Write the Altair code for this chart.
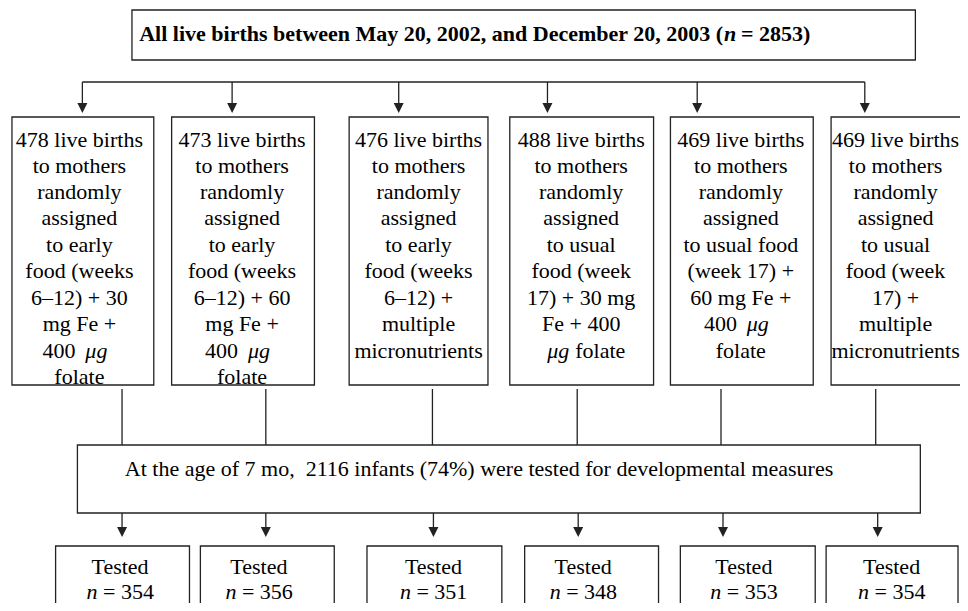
import altair as alt
import pandas as pd

FONT = "Liberation Serif"
INK = "#222222"

# ---------------- content ----------------
title_head = "All live births between May 20, 2002, and December 20, 2003 ("
title_n = "n"
title_tail = "= 2853)"

arm_lines = [
    ["478 live births", "to mothers", "randomly", "assigned", "to early",
     "food (weeks", "6–12) + 30", "mg Fe +", "400  μg", "folate"],
    ["473 live births", "to mothers", "randomly", "assigned", "to early",
     "food (weeks", "6–12) + 60", "mg Fe +", "400  μg", "folate"],
    ["476 live births", "to mothers", "randomly", "assigned", "to early",
     "food (weeks", "6–12) +", "multiple", "micronutrients"],
    ["488 live births", "to mothers", "randomly", "assigned", "to usual",
     "food (week", "17) + 30 mg", "Fe + 400", "μg folate"],
    ["469 live births", "to mothers", "randomly", "assigned", "to usual food",
     "(week 17) +", "60 mg Fe +", "400  μg", "folate"],
    ["469 live births", "to mothers", "randomly", "assigned", "to usual",
     "food (week", "17) +", "multiple", "micronutrients"],
]
MU = "μg"   # typeset in italics, as in the original

collect_text = "At the age of 7 mo,\u00a0 2116 infants (74%) were tested for developmental measures"
tested_label = "Tested"
tested_counts = [354, 356, 351, 348, 353, 354]

# ---------------- layout (reference pixels) ----------------
top_box = (133, 923, 10, 60)
title_anchor = (730, 34)
split_y = 82
split_x = (83, 872)
top_arrow_x = [83, 234, 402, 552, 703, 872]
top_tip_y = 113
arm_left = [12, 173, 352, 514, 676, 838]
arm_right = [155, 317, 492, 659, 820, 990]
arm_top, arm_bottom = 117, 385
arm_text_x = [80, 244, 422, 586, 747, 903]
arm_line_y = [140, 166, 192, 218, 245, 271, 298, 324, 351, 377]
mu_gap_pre = (-4, 6)     # "400" ends / "μg" starts, relative to line centre
mu_gap_post = (-12, -6)  # "μg" ends / "folate" starts, relative to line centre
drop_x = [123, 268, 436, 582, 727, 883]
drop_top = 389
collect_box = (78, 928, 445, 513)
collect_text_pos = (483, 469)
bottom_arrow_x = [123, 268, 437, 583, 729, 885]
bottom_tip_y = 537
test_left = [56, 202, 370, 529, 686, 833]
test_right = [191, 337, 506, 664, 822, 966]
test_top, test_bottom = 546, 640
test_text_x = [121, 261, 437, 588, 750, 899]
tested_y, n_y = 567, 592

# ---------------- tables ----------------
boxes = [dict(x=top_box[0], x2=top_box[1], y=top_box[2], y2=top_box[3])]
for l, r in zip(arm_left, arm_right):
    boxes.append(dict(x=l, x2=r, y=arm_top, y2=arm_bottom))
boxes.append(dict(x=collect_box[0], x2=collect_box[1], y=collect_box[2], y2=collect_box[3]))
for l, r in zip(test_left, test_right):
    boxes.append(dict(x=l, x2=r, y=test_top, y2=test_bottom))
boxes = pd.DataFrame(boxes)

segs = [dict(x=split_x[0], x2=split_x[1], y=split_y, y2=split_y)]
for x in top_arrow_x:
    segs.append(dict(x=x, x2=x, y=split_y, y2=top_tip_y - 3))
for x in drop_x:
    segs.append(dict(x=x, x2=x, y=drop_top, y2=collect_box[2]))
for x in bottom_arrow_x:
    segs.append(dict(x=x, x2=x, y=collect_box[3], y2=bottom_tip_y - 3))
segs = pd.DataFrame(segs)

arrows = pd.DataFrame(
    [dict(x=x, y=top_tip_y) for x in top_arrow_x]
    + [dict(x=x, y=bottom_tip_y) for x in bottom_arrow_x]
)

plain, right_up, left_up, right_it, left_it = [], [], [], [], []
for xc, lines in zip(arm_text_x, arm_lines):
    for yy, t in zip(arm_line_y, lines):
        if MU in t:
            pre, post = [s.strip() for s in t.split(MU, 1)]
            if pre:
                right_up.append(dict(x=xc + mu_gap_pre[0], y=yy, text=pre))
                left_it.append(dict(x=xc + mu_gap_pre[1], y=yy, text=MU))
            else:
                right_it.append(dict(x=xc + mu_gap_post[0], y=yy, text=MU))
                left_up.append(dict(x=xc + mu_gap_post[1], y=yy, text=post))
        else:
            plain.append(dict(x=xc, y=yy, text=t))
plain.append(dict(x=collect_text_pos[0], y=collect_text_pos[1], text=collect_text))
for xc in test_text_x:
    plain.append(dict(x=xc, y=tested_y, text=tested_label))
plain = pd.DataFrame(plain)

n_tail = pd.DataFrame([dict(x=xc, y=n_y, text=f"= {c}") for xc, c in zip(test_text_x, tested_counts)])
n_ital = pd.DataFrame([dict(x=xc, y=n_y, text="n") for xc in test_text_x])

title_df = pd.DataFrame([dict(x=title_anchor[0], y=title_anchor[1], head=title_head,
                              n=title_n, tail=title_tail)])

# ---------------- chart ----------------
W, H = 952, 595
xs = alt.Scale(domain=[8, 968], nice=False, zero=False)
ys = alt.Scale(domain=[8, 8 + H], nice=False, zero=False, reverse=True)
X = alt.X("x:Q", scale=xs, axis=None)
Y = alt.Y("y:Q", scale=ys, axis=None)

rects = alt.Chart(boxes).mark_rect(fill="white", stroke=INK, strokeWidth=1.3, clip=True).encode(
    x=X, x2="x2:Q", y=Y, y2="y2:Q")

rules = alt.Chart(segs).mark_rule(color=INK, strokeWidth=1.3).encode(
    x=X, x2="x2:Q", y=Y, y2="y2:Q")

heads = alt.Chart(arrows).mark_point(
    shape="M-1,-2L1,-2L0,0Z", filled=True, size=100, color=INK, opacity=1).encode(x=X, y=Y)

txt_kw = dict(font=FONT, fontSize=22, color="black", baseline="middle")


def txt(df, align, **kw):
    return alt.Chart(pd.DataFrame(df)).mark_text(align=align, **txt_kw, **kw).encode(
        x=X, y=Y, text="text:N")


plain_txt = txt(plain, "center")
ru_txt = txt(right_up, "right")
lu_txt = txt(left_up, "left")
ri_txt = txt(right_it, "right", fontStyle="italic")
li_txt = txt(left_it, "left", fontStyle="italic")
tail_txt = txt(n_tail, "left", dx=-17)
ital_txt = txt(n_ital, "center", dx=-28, fontStyle="italic")

t_head = alt.Chart(title_df).mark_text(align="right", dx=-1, fontWeight="bold", **txt_kw).encode(
    x=X, y=Y, text="head:N")
t_n = alt.Chart(title_df).mark_text(align="left", dx=0, fontWeight="bold", fontStyle="italic", **txt_kw).encode(
    x=X, y=Y, text="n:N")
t_tail = alt.Chart(title_df).mark_text(align="left", dx=17, fontWeight="bold", **txt_kw).encode(
    x=X, y=Y, text="tail:N")

chart = alt.layer(rects, rules, heads, plain_txt, ru_txt, lu_txt, ri_txt, li_txt,
                  tail_txt, ital_txt, t_head, t_n, t_tail).properties(
    width=W, height=H, padding=0, autosize="none", background="white"
).configure_view(stroke=None)

chart.save("out.html", embed_options={"renderer": "svg", "actions": False})
